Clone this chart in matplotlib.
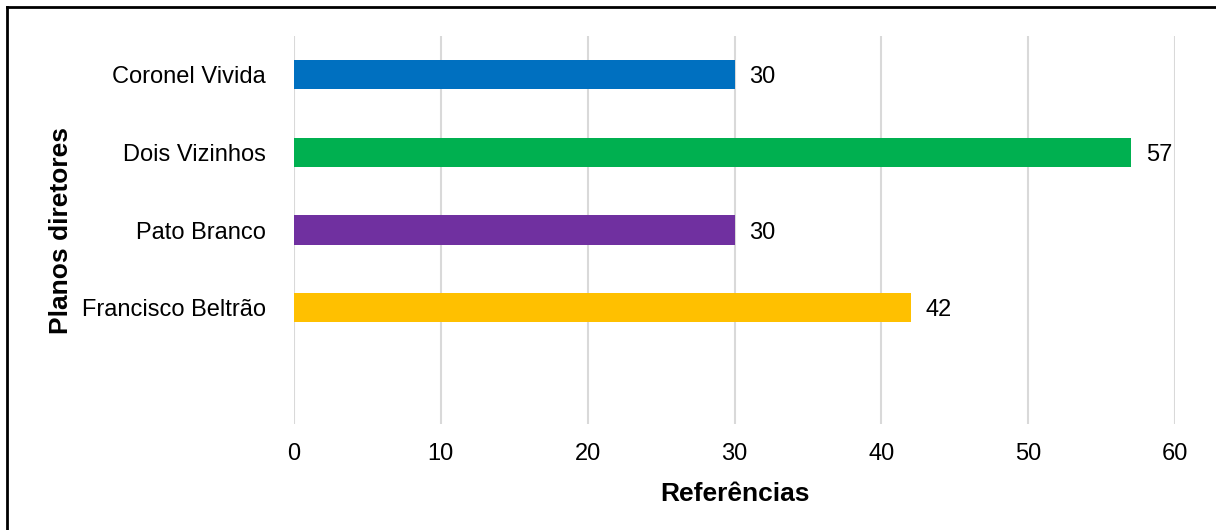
import matplotlib.pyplot as plt
from matplotlib.lines import Line2D

# ------------------------------------------------------------- Dane
municipios = ["Coronel Vivida", "Dois Vizinhos", "Pato Branco", "Francisco Beltrão", ""]
referencias = [30, 57, 30, 42, None]
cores = ["#0070C0", "#00B050", "#7030A0", "#FFC000", "none"]
ticks_x = [0, 10, 20, 30, 40, 50, 60]

plt.rcParams["font.family"] = ["Liberation Sans", "DejaVu Sans"]

fig = plt.figure(figsize=(12.16, 5.30), dpi=100)
ax = fig.add_axes([294 / 1216, 1 - 424 / 530, 881 / 1216, 388 / 530])

pos = list(range(len(municipios)))
for i, (v, c) in enumerate(zip(referencias, cores)):
    if v is None:
        continue
    ax.barh(i, v, height=0.375, color=c, zorder=3)
    ax.text(v + 1.0, i, f"{v}", va="center_baseline", ha="left", fontsize=17, color="#000000")

ax.set_ylim(len(municipios) - 0.5, -0.5)
ax.set_xlim(0, 60)
ax.set_yticks(pos)
ax.set_yticklabels(municipios, fontsize=17)
ax.set_xticks(ticks_x)
ax.set_xticklabels([str(t) for t in ticks_x], fontsize=17)
ax.tick_params(axis="both", length=0)
ax.tick_params(axis="y", pad=20)
ax.tick_params(axis="x", pad=14)

ax.grid(axis="x", color="#d9d9d9", linewidth=1.5, zorder=0)
for s in ax.spines.values():
    s.set_visible(False)

ax.set_xlabel("Referências", fontsize=19, fontweight="bold", labelpad=12)
ax.set_ylabel("Planos diretores", fontsize=19, fontweight="bold", labelpad=7)

# moldura (topo e esquerda)
fig.add_artist(Line2D([7 / 1216, 1], [1 - 7 / 530, 1 - 7 / 530], color="black", linewidth=2, transform=fig.transFigure))
fig.add_artist(Line2D([7 / 1216, 7 / 1216], [0, 1 - 7 / 530], color="black", linewidth=2, transform=fig.transFigure))

fig.savefig("out.png", dpi=100)
